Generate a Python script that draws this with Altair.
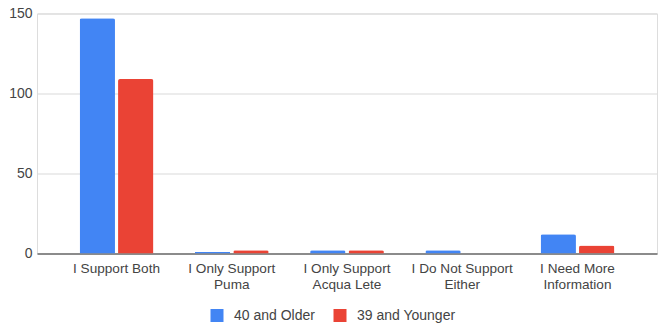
import altair as alt
import pandas as pd

# Survey responses by age group
categories = [
    "I Support Both",
    "I Only Support\nPuma",
    "I Only Support\nAcqua Lete",
    "I Do Not Support\nEither",
    "I Need More\nInformation",
]
series = ["40 and Older", "39 and Younger"]
older = [147, 1, 2, 2, 12]
younger = [109, 2, 2, 0, 5]
y_ticks = [0, 50, 100, 150]
colors = ["#4285F4", "#EA4335"]

rows = []
for cat, a, b in zip(categories, older, younger):
    rows.append({"category": cat, "group": series[0], "value": a})
    rows.append({"category": cat, "group": series[1], "value": b})
df = pd.DataFrame(rows)

font = "Liberation Sans"
text_color = "#444444"

bars = alt.Chart(df).mark_bar(
    cornerRadiusTopLeft=2, cornerRadiusTopRight=2
).encode(
    x=alt.X(
        "category:N",
        sort=categories,
        scale=alt.Scale(paddingInner=0.36, paddingOuter=0.37),
        axis=alt.Axis(
            title=None,
            labelAngle=0,
            labelExpr="split(datum.label, '\\n')",
            labelFont=font,
            labelFontSize=13.6,
            labelColor=text_color,
            labelPadding=8,
            labelLineHeight=16,
            ticks=False,
            domain=True,
            domainColor="#333333",
            domainWidth=1,
            grid=False,
        ),
    ),
    xOffset=alt.XOffset(
        "group:N",
        sort=series,
        scale=alt.Scale(paddingInner=0.08, paddingOuter=0),
    ),
    y=alt.Y(
        "value:Q",
        scale=alt.Scale(domain=[0, 150], nice=False),
        axis=alt.Axis(
            title=None,
            values=y_ticks,
            labelFont=font,
            labelFontSize=14,
            labelColor=text_color,
            labelPadding=5,
            ticks=False,
            domain=False,
            grid=True,
            gridColor="#d9d9d9",
        ),
    ),
    color=alt.Color(
        "group:N",
        sort=series,
        scale=alt.Scale(domain=series, range=colors),
        legend=alt.Legend(
            title=None,
            orient="none",
            direction="horizontal",
            legendX=173,
            legendY=295,
            symbolType="square",
            symbolSize=169,
            symbolStrokeWidth=0,
            symbolOpacity=1,
            labelFont=font,
            labelFontSize=14,
            labelColor=text_color,
            labelOffset=10,
            columnPadding=18,
            padding=0,
        ),
    ),
)

chart = bars.properties(
    width=620,
    height=240,
    autosize=alt.AutoSizeParams(type="none"),
    padding={"left": 37, "top": 13.5, "right": 1, "bottom": 75.5},
).configure_view(stroke=None).configure(background="white")

chart.save("out.html", embed_options={"renderer": "svg", "actions": False})
